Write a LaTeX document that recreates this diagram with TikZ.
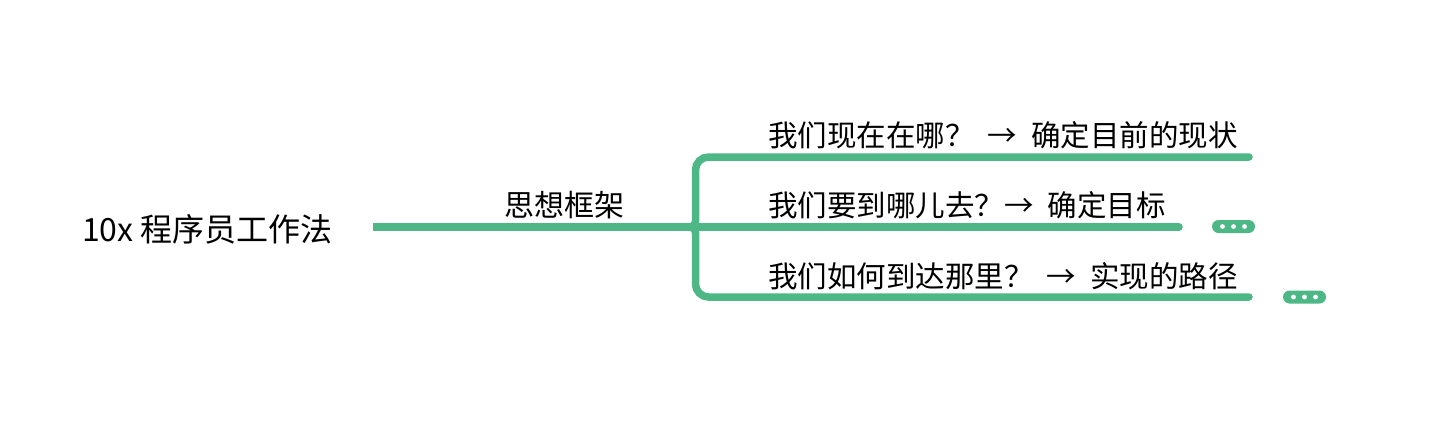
\documentclass[tikz,border=0pt]{standalone}
\usepackage{fontspec}
\setmainfont{Noto Sans CJK SC}
\usepackage{xcolor}
\usetikzlibrary{positioning,calc}
\definecolor{mindgreen}{HTML}{4DB885}
\newcommand{\toarrow}{→\hspace{0.25em}}

\begin{document}
\begin{tikzpicture}[x=1pt,y=-1pt,
        topic/.style={inner sep=0pt, anchor=base west, font=\fontsize{29.5}{34}\selectfont},
        branch/.style={draw=mindgreen, line width=7.5pt, line cap=round},
        more/.style={fill=mindgreen, rectangle, rounded corners=6.5pt, minimum width=43pt, minimum height=13pt, inner sep=0pt}]

\useasboundingbox (0,0) rectangle (1446,432);

\node[topic, font=\fontsize{32}{37}\selectfont] (root) at (82,241) {10x 程序员工作法};
\node[topic, anchor=base, font=\fontsize{30}{34}\selectfont] (frame) at (564.5,216) {思想框架};

\node[topic] (q1) at (768,146) {我们现在在哪？~~\toarrow{} 确定目前的现状};
\node[topic] (q2) at (768,216) {我们要到哪儿去？\toarrow{} 确定目标};
\node[topic] (q3) at (768,287) {我们如何到达那里？~~\toarrow{} 实现的路径};

\node[more] (m2) at (1233.5,226.5) {};
\node[more] (m3) at (1304.5,297) {};
\foreach \dx in {-11,0,11} {
  \fill[white] (m2.center) ++(\dx,0) circle (2.4);
  \fill[white] (m3.center) ++(\dx,0) circle (2.4);
}

\coordinate (start) at (373,227);
\coordinate (fork) at (683,227);
\coordinate (e1) at (1249,157);
\coordinate (e2) at (1179,227);
\coordinate (e3) at (1249,297);

\draw[branch, line cap=butt] (start) -- (fork);
\draw[branch] (fork) [rounded corners=6pt] -| (695.5,200) [rounded corners=13pt] |- (e1);
\draw[branch] (fork) [rounded corners=6pt] -| (695.5,254) [rounded corners=13pt] |- (e3);
\draw[branch] (fork) -- (e2);

\end{tikzpicture}
\end{document}
